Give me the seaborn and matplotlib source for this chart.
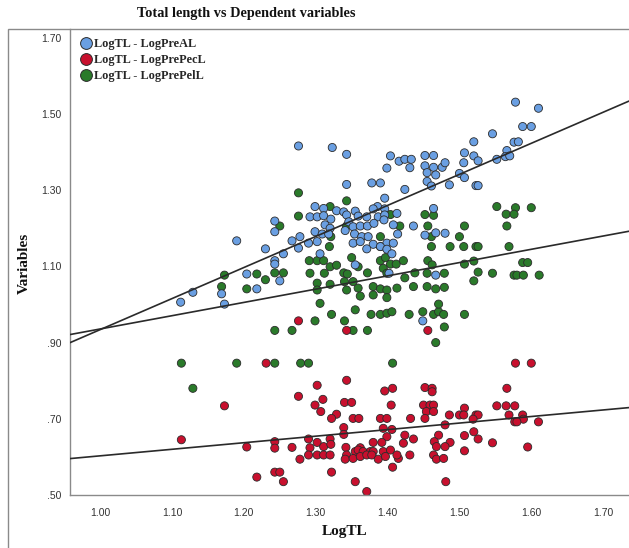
import matplotlib
matplotlib.use("Agg")
import matplotlib.pyplot as plt
from matplotlib.lines import Line2D
from matplotlib.patches import Rectangle
import seaborn as sns
import pandas as pd

# ---------------- data ----------------
pre_al_x = [1.276, 1.323, 1.343, 1.404, 1.452, 1.464, 1.416, 1.424, 1.433, 1.399, 1.431, 1.452, 1.464, 1.476,
            1.455, 1.467, 1.343, 1.378, 1.390, 1.455, 1.461, 1.424, 1.396, 1.299, 1.311, 1.386, 1.380, 1.396,
            1.464, 1.292, 1.302, 1.311, 1.321, 1.329, 1.339, 1.343, 1.355, 1.359, 1.371, 1.387, 1.396, 1.413,
            1.243, 1.243, 1.313, 1.320, 1.346, 1.352, 1.362, 1.372, 1.381, 1.395, 1.408, 1.436, 1.452, 1.467,
            1.480, 1.299, 1.309, 1.318, 1.341, 1.354, 1.364, 1.373, 1.414, 1.267, 1.278, 1.290, 1.302, 1.352,
            1.362, 1.380, 1.399, 1.408, 1.276, 1.371, 1.390, 1.399, 1.255, 1.306, 1.406, 1.243, 1.243, 1.355,
            1.402, 1.467, 1.250, 1.190, 1.230, 1.204, 1.218, 1.129, 1.169, 1.112, 1.173, 1.449, 1.578, 1.610,
            1.588, 1.600, 1.546, 1.520, 1.576, 1.582, 1.507, 1.520, 1.566, 1.564, 1.570, 1.552, 1.526, 1.506,
            1.480, 1.500, 1.507, 1.486, 1.523, 1.526]
pre_al_y = [1.416, 1.412, 1.394, 1.390, 1.391, 1.391, 1.376, 1.381, 1.381, 1.358, 1.359, 1.364, 1.360, 1.360,
            1.346, 1.340, 1.315, 1.319, 1.319, 1.323, 1.311, 1.302, 1.279, 1.257, 1.252, 1.257, 1.251, 1.251,
            1.252, 1.230, 1.230, 1.233, 1.224, 1.246, 1.243, 1.235, 1.245, 1.232, 1.230, 1.230, 1.235, 1.239,
            1.219, 1.191, 1.209, 1.200, 1.217, 1.204, 1.206, 1.206, 1.213, 1.222, 1.209, 1.206, 1.182, 1.188,
            1.187, 1.191, 1.185, 1.185, 1.194, 1.185, 1.178, 1.178, 1.185, 1.167, 1.178, 1.161, 1.165, 1.161,
            1.165, 1.158, 1.161, 1.161, 1.148, 1.146, 1.152, 1.145, 1.133, 1.133, 1.133, 1.115, 1.106, 1.104,
            1.082, 1.077, 1.062, 1.167, 1.146, 1.080, 1.041, 1.032, 1.028, 1.006, 1.001, 0.957, 1.531, 1.515,
            1.467, 1.467, 1.448, 1.427, 1.426, 1.427, 1.398, 1.390, 1.404, 1.388, 1.390, 1.381, 1.377, 1.372,
            1.372, 1.344, 1.333, 1.314, 1.312, 1.312]

pre_pec_x = [1.231, 1.173, 1.113, 1.204, 1.218, 1.276, 1.343, 1.456, 1.343, 1.302, 1.407, 1.396, 1.452, 1.462,
             1.462, 1.276, 1.310, 1.340, 1.350, 1.299, 1.405, 1.450, 1.459, 1.464, 1.307, 1.454, 1.464, 1.329,
             1.322, 1.352, 1.360, 1.390, 1.399, 1.432, 1.452, 1.339, 1.339, 1.394, 1.406, 1.480, 1.399, 1.424,
             1.471, 1.243, 1.290, 1.320, 1.267, 1.302, 1.311, 1.321, 1.342, 1.362, 1.380, 1.392, 1.422, 1.436,
             1.465, 1.468, 1.243, 1.292, 1.302, 1.311, 1.320, 1.290, 1.278, 1.343, 1.355, 1.359, 1.366, 1.376,
             1.380, 1.394, 1.404, 1.341, 1.352, 1.362, 1.371, 1.378, 1.387, 1.397, 1.415, 1.413, 1.431, 1.464,
             1.468, 1.478, 1.243, 1.250, 1.255, 1.322, 1.407, 1.355, 1.371, 1.481, 1.578, 1.600, 1.566, 1.552,
             1.565, 1.577, 1.507, 1.486, 1.500, 1.506, 1.523, 1.526, 1.519, 1.569, 1.588, 1.589, 1.577, 1.580,
             1.610, 1.520, 1.507, 1.526, 1.487, 1.546, 1.480, 1.507, 1.595]
pre_pec_y = [0.846, 0.734, 0.645, 0.626, 0.547, 0.957, 0.932, 0.932, 0.801, 0.788, 0.780, 0.773, 0.782, 0.780,
             0.771, 0.759, 0.751, 0.743, 0.743, 0.736, 0.736, 0.736, 0.736, 0.736, 0.719, 0.719, 0.719, 0.712,
             0.701, 0.701, 0.701, 0.701, 0.701, 0.701, 0.701, 0.677, 0.659, 0.675, 0.672, 0.684, 0.653, 0.657,
             0.657, 0.640, 0.647, 0.647, 0.625, 0.638, 0.627, 0.633, 0.625, 0.624, 0.638, 0.638, 0.636, 0.647,
             0.640, 0.627, 0.623, 0.624, 0.605, 0.605, 0.605, 0.605, 0.594, 0.605, 0.614, 0.618, 0.614, 0.614,
             0.614, 0.614, 0.618, 0.594, 0.596, 0.601, 0.605, 0.605, 0.594, 0.601, 0.596, 0.605, 0.605, 0.605,
             0.594, 0.596, 0.560, 0.560, 0.535, 0.560, 0.573, 0.535, 0.509, 0.535, 0.846, 0.846, 0.780, 0.734,
             0.734, 0.734, 0.728, 0.710, 0.710, 0.710, 0.710, 0.710, 0.699, 0.710, 0.710, 0.699, 0.692, 0.692,
             0.692, 0.666, 0.656, 0.647, 0.638, 0.637, 0.627, 0.616, 0.626]

pre_pel_x = [1.276, 1.343, 1.320, 1.276, 1.404, 1.452, 1.464, 1.250, 1.343, 1.417, 1.456, 1.321, 1.390, 1.461,
             1.319, 1.390, 1.461, 1.291, 1.302, 1.311, 1.350, 1.390, 1.397, 1.404, 1.412, 1.422, 1.456, 1.462,
             1.320, 1.329, 1.359, 1.394, 1.243, 1.255, 1.292, 1.312, 1.339, 1.344, 1.372, 1.399, 1.424, 1.438,
             1.455, 1.479, 1.302, 1.320, 1.340, 1.352, 1.359, 1.380, 1.390, 1.399, 1.413, 1.436, 1.455, 1.467,
             1.479, 1.302, 1.173, 1.218, 1.230, 1.169, 1.204, 1.113, 1.190, 1.129, 1.306, 1.355, 1.322, 1.377,
             1.390, 1.399, 1.406, 1.430, 1.449, 1.464, 1.471, 1.478, 1.299, 1.340, 1.352, 1.372, 1.243, 1.267,
             1.479, 1.467, 1.362, 1.380, 1.399, 1.243, 1.279, 1.290, 1.407, 1.507, 1.552, 1.578, 1.600, 1.565,
             1.576, 1.507, 1.566, 1.500, 1.487, 1.506, 1.523, 1.526, 1.569, 1.507, 1.520, 1.588, 1.595, 1.526,
             1.546, 1.576, 1.580, 1.589, 1.611, 1.520, 1.343, 1.471]
pre_pel_y = [1.293, 1.272, 1.257, 1.232, 1.236, 1.236, 1.234, 1.206, 1.206, 1.206, 1.206, 1.178, 1.178, 1.178,
             1.152, 1.152, 1.152, 1.115, 1.115, 1.115, 1.123, 1.115, 1.123, 1.106, 1.106, 1.115, 1.115, 1.104,
             1.099, 1.103, 1.099, 1.095, 1.083, 1.083, 1.082, 1.082, 1.083, 1.080, 1.083, 1.082, 1.070, 1.083,
             1.082, 1.082, 1.056, 1.053, 1.060, 1.060, 1.043, 1.047, 1.041, 1.038, 1.043, 1.047, 1.047, 1.041,
             1.045, 1.038, 1.077, 1.080, 1.065, 1.047, 1.041, 0.846, 0.846, 0.780, 1.003, 0.986, 0.974, 0.974,
             0.974, 0.977, 0.981, 0.974, 0.981, 0.974, 0.981, 0.974, 0.957, 0.957, 0.932, 0.932, 0.932, 0.932,
             0.941, 0.900, 1.022, 1.025, 1.018, 0.846, 0.846, 0.846, 0.846, 0.974, 1.257, 1.254, 1.254, 1.237,
             1.237, 1.206, 1.206, 1.178, 1.152, 1.152, 1.152, 1.152, 1.152, 1.106, 1.114, 1.110, 1.110, 1.085,
             1.082, 1.077, 1.077, 1.077, 1.077, 1.062, 1.038, 1.001]

series_labels = ["LogTL - LogPreAL", "LogTL - LogPrePecL", "LogTL - LogPrePelL"]
x_ticks = [1.00, 1.10, 1.20, 1.30, 1.40, 1.50, 1.60, 1.70]
x_ticklabels = ["1.00", "1.10", "1.20", "1.30", "1.40", "1.50", "1.60", "1.70"]
y_ticks = [0.50, 0.70, 0.90, 1.10, 1.30, 1.50, 1.70]
y_ticklabels = [".50", ".70", ".90", "1.10", "1.30", "1.50", "1.70"]
title_text = "Total length vs Dependent variables"
x_label = "LogTL"
y_label = "Variables"

colors = {"LogTL - LogPreAL": "#6A9FE2",
          "LogTL - LogPrePecL": "#C8102E",
          "LogTL - LogPrePelL": "#2A7A2A"}

# ---------------- build tidy frame ----------------
frames = []
for lbl, xs, ys in [(series_labels[2], pre_pel_x, pre_pel_y),
                    (series_labels[1], pre_pec_x, pre_pec_y),
                    (series_labels[0], pre_al_x, pre_al_y)]:
    frames.append(pd.DataFrame({"LogTL": xs, "value": ys, "series": lbl}))
df = pd.concat(frames, ignore_index=True)

sns.set_theme(style="white")
plt.rcParams["font.family"] = ["Liberation Sans", "DejaVu Sans"]

W, H = 629, 548
fig = plt.figure(figsize=(W / 100, H / 100), dpi=100)
ax = fig.add_axes([70 / W, 1 - 495 / H, (W - 70) / W, (495 - 29) / H])

xlim = (0.958, 1.736)
ylim = (0.50, 1.723)
ax.set_xlim(*xlim)
ax.set_ylim(*ylim)

sns.scatterplot(data=df, x="LogTL", y="value", hue="series", palette=colors,
                s=34, edgecolor="#2b2b2b", linewidth=0.6, legend=False, ax=ax, zorder=2)

for lbl, xs, ys in [(series_labels[0], pre_al_x, pre_al_y),
                    (series_labels[1], pre_pec_x, pre_pec_y),
                    (series_labels[2], pre_pel_x, pre_pel_y)]:
    sns.regplot(x=xs, y=ys, scatter=False, ci=None, truncate=False, ax=ax,
                line_kws=dict(color="#2a2a2a", lw=1.2, zorder=3))

ax.set_xlim(*xlim)
ax.set_ylim(*ylim)

ax.set_xticks(x_ticks)
ax.set_xticklabels(x_ticklabels)
ax.set_yticks(y_ticks)
ax.set_yticklabels(y_ticklabels)
ax.tick_params(axis="both", length=0, labelsize=7.5, labelcolor="#333333")
ax.tick_params(axis="x", pad=9)
ax.tick_params(axis="y", pad=6)

for side in ["top", "right"]:
    ax.spines[side].set_visible(False)
for side in ["left", "bottom"]:
    ax.spines[side].set_color("#8a8a8a")
    ax.spines[side].set_linewidth(1.0)

ax.set_xlabel("")
ax.set_ylabel("")

serif = ["Liberation Serif", "DejaVu Serif"]

# outer chart frame (partly cropped in the reference)
fig.patches.append(Rectangle((8 / W, -0.05), 1.1, 1 - 29 / H + 0.05, transform=fig.transFigure,
                             fill=False, edgecolor="#8a8a8a", lw=1.0))

fig.text(246 / W, 1 - 13 / H, title_text, ha="center", va="center",
         family=serif, fontweight="bold", fontsize=10.3, color="#111111")
fig.text(345 / W, 1 - 531 / H, x_label, ha="center", va="center",
         family=serif, fontweight="bold", fontsize=11, color="#111111")
fig.text(24 / W, 1 - 263 / H, y_label, ha="center", va="center", rotation=90,
         family=serif, fontweight="bold", fontsize=11, color="#111111")

handles = [Line2D([0], [0], marker="o", linestyle="", markersize=8.5,
                  markerfacecolor=colors[l], markeredgecolor="#2b2b2b", markeredgewidth=0.7)
           for l in series_labels]
leg = ax.legend(handles, series_labels, loc="upper left", bbox_to_anchor=(0.0, 1.0),
                frameon=False, handletextpad=0.05, labelspacing=0.32, borderaxespad=0.35,
                handlelength=1.2, prop=dict(family=serif, weight="bold", size=8.8))

fig.savefig("out.png", dpi=100)
